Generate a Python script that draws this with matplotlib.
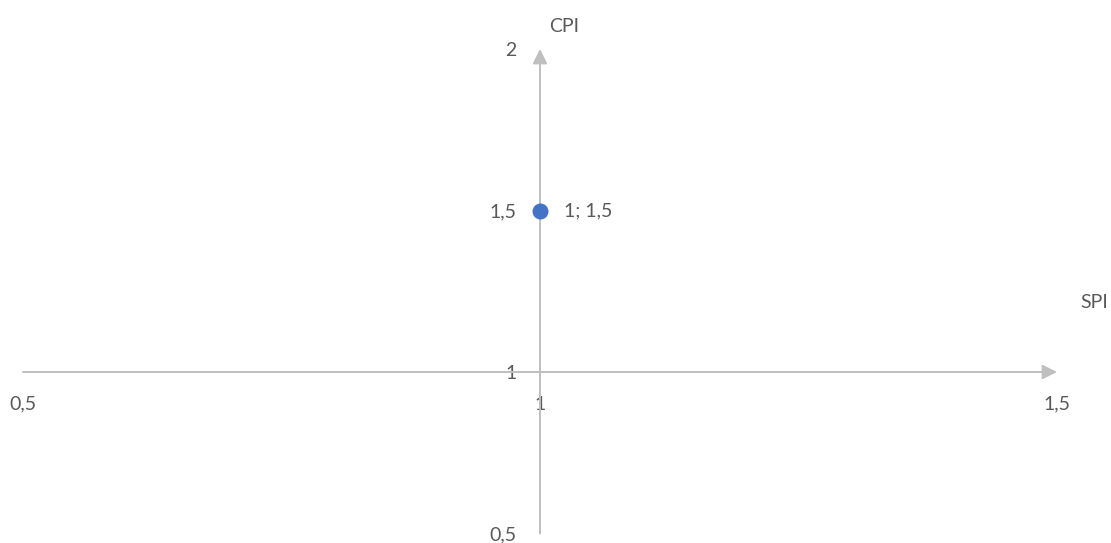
import matplotlib.pyplot as plt

plt.rcParams['font.family'] = ['Lato', 'DejaVu Sans']

spi = [1]
cpi = [1.5]
x_ticks = [0.5, 1, 1.5]
y_ticks = [0.5, 1, 1.5, 2]

def fmt(v):
    return ('%g' % v).replace('.', ',')

text_color = '#595959'
axis_color = '#BFBFBF'
fs = 14

fig = plt.figure(figsize=(11.11, 5.43), dpi=100)
ax = fig.add_axes([0, 0, 1, 1])
ax.set_xlim(0.4778, 1.5522)
ax.set_ylim(0.4706, 2.1517)

# axes cross at (1, 1), spines hidden, arrows drawn instead
ax.spines['left'].set_position(('data', 1))
ax.spines['bottom'].set_position(('data', 1))
for s in ax.spines.values():
    s.set_color('none')

ax.annotate('', xy=(x_ticks[-1], 1), xytext=(x_ticks[0], 1),
            arrowprops=dict(arrowstyle='-|>', color=axis_color, lw=1.4,
                            mutation_scale=22, shrinkA=0, shrinkB=0))
ax.annotate('', xy=(1, y_ticks[-1]), xytext=(1, y_ticks[0]),
            arrowprops=dict(arrowstyle='-|>', color=axis_color, lw=1.4,
                            mutation_scale=22, shrinkA=0, shrinkB=0))

ax.set_xticks(x_ticks)
ax.set_xticklabels([fmt(v) for v in x_ticks])
ax.set_yticks(y_ticks)
ax.set_yticklabels([fmt(v) for v in y_ticks])
ax.tick_params(axis='x', length=0, pad=17, labelsize=fs, labelcolor=text_color)
ax.tick_params(axis='y', length=0, pad=17, labelsize=fs, labelcolor=text_color)

ax.scatter(spi, cpi, s=110, color='#4472C4', zorder=5)
for x, y in zip(spi, cpi):
    ax.annotate('%s; %s' % (fmt(x), fmt(y)), (x, y), xytext=(17, 0),
                textcoords='offset points', va='center', ha='left',
                fontsize=fs, color=text_color)

ax.text(0.5075, 0.952, 'CPI', transform=fig.transFigure, ha='center',
        va='center', fontsize=fs, color=text_color)
ax.text(0.985, 0.442, 'SPI', transform=fig.transFigure, ha='center',
        va='center', fontsize=fs, color=text_color)

fig.savefig('out.png', dpi=100)
